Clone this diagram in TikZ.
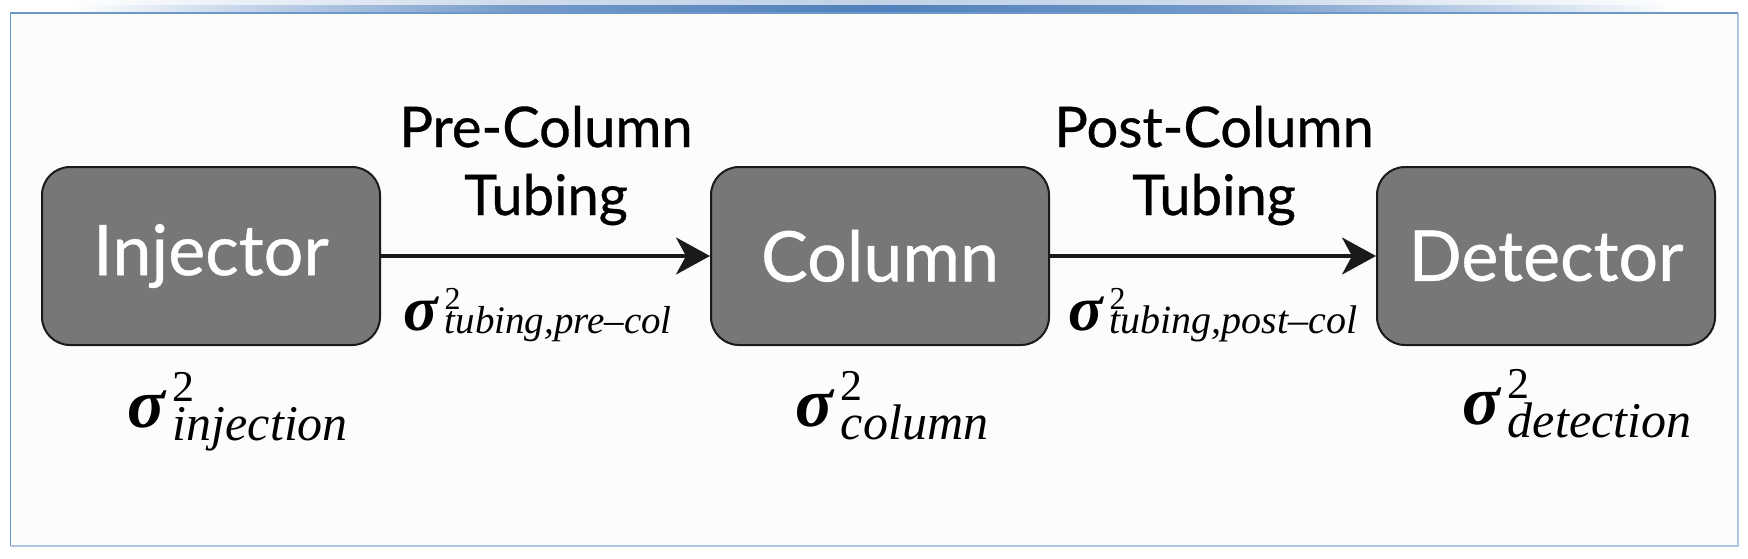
\documentclass[tikz,border=0pt]{standalone}
\usepackage{fontspec}
\setmainfont{Liberation Serif}
\newfontfamily\latofont[FakeBold=0.6]{Lato}
\usetikzlibrary{arrows.meta}
\definecolor{boxgray}{HTML}{777777}
\definecolor{edgeblack}{HTML}{1A1A1A}
\definecolor{bgcream}{HTML}{FCFCFA}
\definecolor{barblue}{HTML}{4F80BB}
\definecolor{barmid}{HTML}{7399C8}
\definecolor{barlight}{HTML}{C5D5EA}
\definecolor{framedark}{HTML}{6C98C9}
\definecolor{framelight}{HTML}{AEC5DF}
\pgfdeclarehorizontalshading{topbar}{100bp}{color(0bp)=(white); color(25bp)=(white); color(27bp)=(white); color(32bp)=(barlight); color(40bp)=(barmid); color(50bp)=(barblue); color(60bp)=(barmid); color(68bp)=(barlight); color(73bp)=(white); color(75bp)=(white); color(100bp)=(white)}
% #1 sigma size, #2 sup size, #3 sup raise, #4 sub size, #5 sub lower, #6 kern, #7 subscript
\newcommand{\sgm}[7]{%
  {\fontsize{#1}{#1}\selectfont\bfseries\itshape σ}\kern#6%
  \rlap{\raisebox{#3}{\fontsize{#2}{#2}\selectfont\upshape 2}}%
  \raisebox{-#5}{\fontsize{#4}{#4}\selectfont\itshape #7}}
\tikzset{
  procbox/.style={draw=edgeblack, line width=2pt, fill=boxgray, rounded corners=28pt,
    minimum width=338pt, minimum height=178pt, text=white, inner sep=0pt,
    font=\latofont\fontsize{70}{74}\selectfont},
  flowarrow/.style={draw=edgeblack, line width=3.5pt,
    -{Stealth[length=34pt,width=37pt,inset=10pt]}},
  tubelab/.style={align=center, inner sep=0pt, text=black,
    font=\latofont\fontsize{56}{68}\selectfont},
  siglab/.style={inner sep=0pt, anchor=base west, text=black}
}
\begin{document}
\begin{tikzpicture}[x=1pt,y=-1pt]
\useasboundingbox (0,0) rectangle (1748,558);
\fill[white] (0,0) rectangle (1748,558);
% top gradient bar
\shade[shading=topbar] (0,5.5) rectangle (1748,13);
\shade[shading=topbar, opacity=0.35] (0,0) rectangle (1748,5.5);
% frame
\fill[bgcream] (10.5,13) rectangle (1738,546);
\draw[framelight, line width=1.5pt] (10.5,546) -- (1738,546) -- (1738,13);
\draw[framedark, line width=1.5pt] (10.5,546) -- (10.5,13) -- (1738,13);
% boxes
\node[procbox] (inj) at (211,256) {Injector};
\node[procbox] (col) at (880,256) {Column};
\node[procbox] (det) at (1546,256) {Detector};
% arrows
\draw[flowarrow] (inj.east) -- (col.west);
\draw[flowarrow] (col.east) -- (det.west);
% tubing labels
\node[tubelab, anchor=base] (pretxt) at (546,215) {Pre-Column\\Tubing};
\node[tubelab, anchor=base] (posttxt) at (1214,215) {Post-Column\\Tubing};
% variance labels
\node[siglab] (spre) at (403,330) {\sgm{64pt}{32pt}{21pt}{39pt}{3pt}{7pt}{tubing,pre–col}};
\node[siglab] (spost) at (1068,330) {\sgm{64pt}{32pt}{21pt}{40pt}{3pt}{7pt}{tubing,post–col}};
\node[siglab] (sinj) at (127,427) {\sgm{70pt}{44pt}{26pt}{50pt}{13pt}{8pt}{injection}};
\node[siglab] (scol) at (795,426) {\sgm{70pt}{44pt}{26pt}{50pt}{13pt}{8pt}{column}};
\node[siglab] (sdet) at (1462,424) {\sgm{70pt}{44pt}{26pt}{50pt}{13pt}{8pt}{detection}};
\end{tikzpicture}
\end{document}
